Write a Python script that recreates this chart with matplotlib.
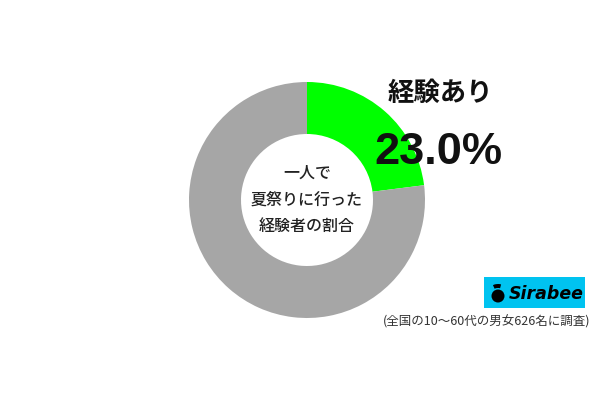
import matplotlib.pyplot as plt
from matplotlib.patches import Rectangle, Circle, Wedge

plt.rcParams['font.family'] = ['Noto Sans CJK JP', 'DejaVu Sans']

labels = ['経験あり', 'なし']
values = [23.0, 77.0]
colors = ['#00FF00', '#A6A6A6']
center_text = '一人で\n夏祭りに行った\n経験者の割合'
note = '(全国の10〜60代の男女626名に調査)'

fig = plt.figure(figsize=[6, 4], dpi=100)
ax = fig.add_axes([0, 0, 1, 1])
ax.set_xlim(0, 600)
ax.set_ylim(0, 400)
ax.set_aspect('equal')
ax.axis('off')

ax.pie(values, colors=colors, startangle=90, counterclock=False,
       center=(307, 200), radius=118,
       wedgeprops=dict(width=52, linewidth=0))
ax.set_xlim(0, 600)
ax.set_ylim(0, 400)

ax.text(307, 200, center_text, ha='center', va='center', fontsize=11.5,
        linespacing=1.75, color='#222222', fontweight='medium')

ax.text(440, 307, labels[0], ha='center', va='center', fontsize=19,
        fontweight='bold', color='#111111')
ax.text(438, 248, f'{values[0]:.1f}%', ha='center', va='center', fontsize=32.5,
        fontweight='bold', family='Liberation Sans', color='#111111')

# logo
ax.add_patch(Rectangle((484, 92), 101, 31, color='#00C3F0', lw=0))
ax.add_patch(Circle((498, 104), 6.5, color='black', lw=0))
ax.add_patch(Wedge((498, 104), 12, 75, 115, width=4, color='black', lw=0))
ax.text(509, 106, 'Sirabee', ha='left', va='center', fontsize=12.5,
        fontweight='bold', style='italic', family='DejaVu Sans', color='black')

ax.text(590, 78, note, ha='right', va='center', fontsize=9, color='#333333')

plt.savefig('out.png', dpi=100, facecolor='white')
